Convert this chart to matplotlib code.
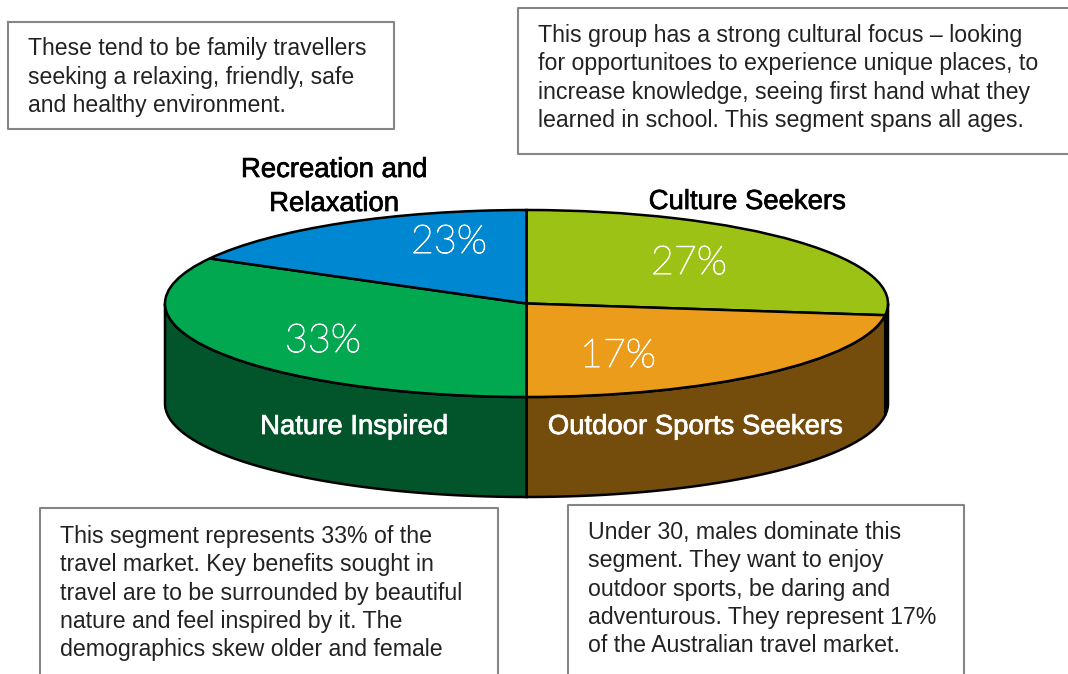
import numpy as np
import matplotlib
matplotlib.use('Agg')
import matplotlib.pyplot as plt
import matplotlib.patheffects as pe
from matplotlib.patches import Polygon

W, H = 1068, 674

# slice sizes as drawn (clockwise from 12 o'clock)
slice_sizes = [27, 23, 33, 17]
slice_colors = ['#9dc216', '#eb9c1a', '#02a850', '#0087d1']
wall_colors = ['#000000', '#744d0c', '#02552a', '#02552a']

# printed labels, they do not follow the slice sizes in the original
pct_labels = ['27%', '17%', '33%', '23%']
pct_pos = [(689, 274), (618, 367), (323, 352), (449, 253)]

name_labels = ['Recreation and', 'Relaxation', 'Culture Seekers']
name_pos = [(334, 177), (334, 211), (747, 209)]
wall_labels = ['Nature Inspired', 'Outdoor Sports Seekers']
wall_pos = [(354, 434), (695, 434)]

box1 = ['These tend to be family travellers',
        'seeking a relaxing, friendly, safe',
        'and healthy environment.']
box2 = ['This group has a strong cultural focus \u2013 looking',
        'for opportunitoes to experience unique places, to',
        'increase knowledge, seeing first hand what they',
        'learned in school. This segment spans all ages.']
box3 = ['This segment represents 33% of the',
        'travel market. Key benefits sought in',
        'travel are to be surrounded by beautiful',
        'nature and feel inspired by it. The',
        'demographics skew older and female']
box4 = ['Under 30, males dominate this',
        'segment. They want to enjoy',
        'outdoor sports, be daring and',
        'adventurous. They represent 17%',
        'of the Australian travel market.']

plt.rcParams['font.family'] = ['Liberation Sans', 'DejaVu Sans']

fig = plt.figure(figsize=(W / 100, H / 100), dpi=100)

# pie axes: one data unit is the ellipse radius on each axis
cx, cy, rx, ry = 526.5, 303.5, 361.5, 93.5
depth = 100 / ry
ax = fig.add_axes([0, 0, 1, 1])
ax.pie(slice_sizes, colors=slice_colors, startangle=90, counterclock=False,
       wedgeprops={'edgecolor': 'black', 'linewidth': 1.8, 'zorder': 3})
ax.set_aspect('auto')
ax.set_xlim((0 - cx) / rx, (W - cx) / rx)
ax.set_ylim((cy - H) / ry, cy / ry)

# side walls, only the part of each slice facing the viewer
edges = 90 - np.cumsum([0] + slice_sizes) * 3.6
for i in range(len(slice_sizes)):
    hi = min(edges[i], 0)
    lo = max(edges[i + 1], -180)
    if hi <= lo:
        continue
    t = np.radians(np.linspace(hi, lo, 80))
    xs = np.cos(t)
    ys = np.sin(t)
    pts = np.column_stack([np.r_[xs, xs[::-1]], np.r_[ys, ys[::-1] - depth]])
    ax.add_patch(Polygon(pts, closed=True, facecolor=wall_colors[i],
                         edgecolor='black', linewidth=1.8, zorder=2))

# overlay in pixel coordinates for boxes and text
ov = fig.add_axes([0, 0, 1, 1])
ov.set_xlim(0, W)
ov.set_ylim(H, 0)
ov.axis('off')
ov.patch.set_alpha(0)

gray = '#858585'
# closed box
ov.plot([8, 394, 394, 8, 8], [22, 22, 129, 129, 22], color=gray, lw=1.5)
# the others run off the picture
ov.plot([1068, 518, 518, 1068], [8, 8, 154, 154], color=gray, lw=1.5)
ov.plot([40, 40, 498, 498], [674, 508, 508, 674], color=gray, lw=1.5)
ov.plot([568, 568, 964, 964], [674, 505, 505, 674], color=gray, lw=1.5)

for lines, x, y0, step, size in [(box1, 28, 55, 28.7, 16.6), (box2, 538, 42, 28.4, 16.7),
                                 (box3, 60, 543, 28.3, 16.7), (box4, 588, 539, 28.3, 16.7)]:
    for n, line in enumerate(lines):
        ov.text(x, y0 + n * step, line, fontsize=size, color='#222222', va='baseline')

# Lato light comes out as a hairline here, so give it a little stroke
for s, (x, y) in zip(pct_labels, pct_pos):
    ov.text(x, y, s, fontsize=28.5, family='Lato', weight='light', color='white',
            ha='center', va='baseline',
            path_effects=[pe.withStroke(linewidth=0.7, foreground='white')])

# the names are a medium weight, a thin stroke thickens the regular face
for s, (x, y) in zip(name_labels, name_pos):
    ov.text(x, y, s, fontsize=19.8, color='black', ha='center', va='baseline',
            path_effects=[pe.withStroke(linewidth=0.5, foreground='black')])
for s, (x, y) in zip(wall_labels, wall_pos):
    ov.text(x, y, s, fontsize=19.8, color='white', ha='center', va='baseline',
            path_effects=[pe.withStroke(linewidth=0.5, foreground='white')])

fig.savefig('out.png', dpi=100)
